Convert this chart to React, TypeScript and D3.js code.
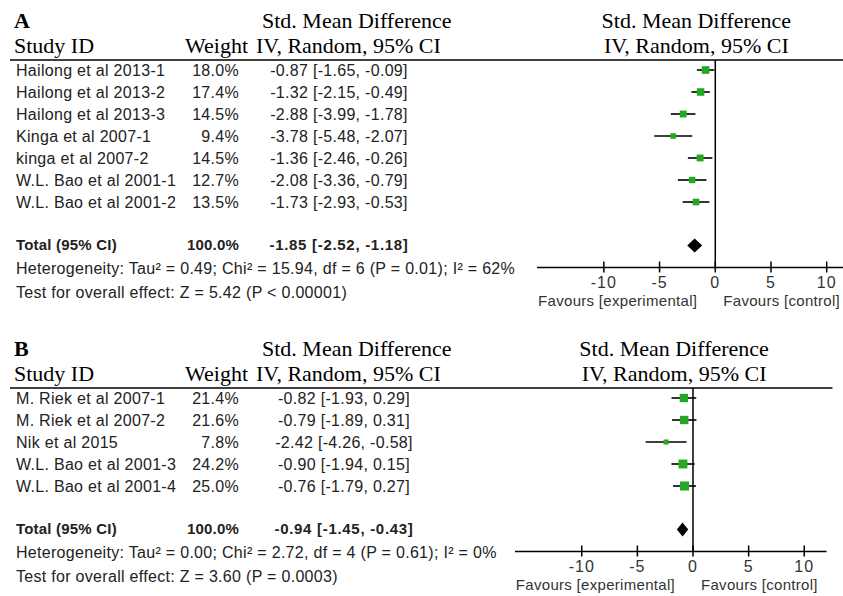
import React from "react";
import * as d3 from "d3";

// panel A data
const studiesA = ["Hailong et al 2013-1", "Hailong et al 2013-2", "Hailong et al 2013-3", "Kinga et al 2007-1", "kinga et al 2007-2", "W.L. Bao et al 2001-1", "W.L. Bao et al 2001-2"];
const weightsA = [18.0, 17.4, 14.5, 9.4, 14.5, 12.7, 13.5];
const smdA = [-0.87, -1.32, -2.88, -3.78, -1.36, -2.08, -1.73];
const lowerA = [-1.65, -2.15, -3.99, -5.48, -2.46, -3.36, -2.93];
const upperA = [-0.09, -0.49, -1.78, -2.07, -0.26, -0.79, -0.53];
const totalA = [-1.85, -2.52, -1.18];
const hetA = "Heterogeneity: Tau\u00b2 = 0.49; Chi\u00b2 = 15.94, df = 6 (P = 0.01); I\u00b2 = 62%";
const testA = "Test for overall effect: Z = 5.42 (P < 0.00001)";

// panel B data
const studiesB = ["M. Riek et al 2007-1", "M. Riek et al 2007-2", "Nik et al 2015", "W.L. Bao et al 2001-3", "W.L. Bao et al 2001-4"];
const weightsB = [21.4, 21.6, 7.8, 24.2, 25.0];
const smdB = [-0.82, -0.79, -2.42, -0.90, -0.76];
const lowerB = [-1.93, -1.89, -4.26, -1.94, -1.79];
const upperB = [0.29, 0.31, -0.58, 0.15, 0.27];
const totalB = [-0.94, -1.45, -0.43];
const hetB = "Heterogeneity: Tau\u00b2 = 0.00; Chi\u00b2 = 2.72, df = 4 (P = 0.61); I\u00b2 = 0%";
const testB = "Test for overall effect: Z = 3.60 (P = 0.0003)";

const ticks = [-10, -5, 0, 5, 10];
const xDomain = [-16, 12];

const serif = "'Liberation Serif', 'Times New Roman', serif";
const sans = "'Liberation Sans', Arial, sans-serif";
const textColor = "#222";
const green = "#22a822";

// plain hyphen minus, like RevMan prints it
const fmt = (v) => v.toFixed(2);
const ciText = (m, l, u) => `${fmt(m)} [${fmt(l)}, ${fmt(u)}]`;

function Panel(props) {
  const { label, studies, weights, smd, lower, upper, total, het, test, lineY, plotLeft, plotRight, ciX } = props;

  const x = d3.scaleLinear().domain(xDomain).range([plotLeft, plotRight]);
  const rowStep = 22;
  const rowY = (i) => lineY + 10 + i * rowStep;
  const lastY = rowY(studies.length - 1);
  const totalY = lastY + 43.5;
  const axisY = totalY + 22;
  const markSize = (w) => Math.sqrt(w) * 1.8;
  const headX = x(-1.7);

  const bodyStyle = { fontFamily: sans, fontSize: 16, letterSpacing: 0.3, fill: textColor };
  const boldStyle = { fontFamily: sans, fontSize: 15, letterSpacing: 0.2, fontWeight: "bold", fill: textColor };
  const axisStyle = { fontFamily: sans, fontSize: 15, letterSpacing: 0.3, fill: "#333" };

  return (
    <g>
      {/* headers */}
      <g style={{ fontFamily: serif, fontSize: 22, fill: "#000" }}>
        <text x={14} y={lineY - 32} fontWeight="bold">{label}</text>
        <text x={14} y={lineY - 7}>Study ID</text>
        <text x={248} y={lineY - 7} textAnchor="end">Weight</text>
        <text x={262} y={lineY - 32}>Std. Mean Difference</text>
        <text x={256} y={lineY - 7}>IV, Random, 95% CI</text>
        <text x={headX} y={lineY - 32} textAnchor="middle">Std. Mean Difference</text>
        <text x={headX} y={lineY - 7} textAnchor="middle">IV, Random, 95% CI</text>
      </g>
      <line x1={10} x2={plotRight + 6} y1={lineY} y2={lineY} stroke="#000" strokeWidth={1.5} />

      {/* table rows */}
      <g style={bodyStyle}>
        {studies.map((s, i) => (
          <g key={s}>
            <text x={16} y={rowY(i) + 6}>{s}</text>
            <text x={239} y={rowY(i) + 6} textAnchor="end">{weights[i].toFixed(1)}%</text>
            <text x={ciX} y={rowY(i) + 6} textAnchor="middle">{ciText(smd[i], lower[i], upper[i])}</text>
          </g>
        ))}
        <g style={boldStyle}>
          <text x={16} y={totalY + 4}>Total (95% CI)</text>
          <text x={239} y={totalY + 4} textAnchor="end">100.0%</text>
          <text x={ciX} y={totalY + 4} textAnchor="middle" style={{ letterSpacing: 0.7 }}>{ciText(total[0], total[1], total[2])}</text>
        </g>
        <text x={16} y={axisY + 6}>{het}</text>
        <text x={16} y={axisY + 30}>{test}</text>
      </g>

      {/* plot */}
      <line x1={x(0)} x2={x(0)} y1={lineY} y2={axisY} stroke="#000" strokeWidth={1.5} />
      {studies.map((s, i) => {
        const sz = markSize(weights[i]);
        return (
          <g key={"m" + s}>
            <line x1={x(lower[i])} x2={x(upper[i])} y1={rowY(i)} y2={rowY(i)} stroke="#000" strokeWidth={1.6} />
            <rect x={x(smd[i]) - sz / 2} y={rowY(i) - sz / 2} width={sz} height={sz} fill={green} />
          </g>
        );
      })}
      <path
        d={`M${x(total[1])},${totalY} L${x(total[0])},${totalY - 7} L${x(total[2])},${totalY} L${x(total[0])},${totalY + 7} Z`}
        fill="#000"
      />

      {/* axis */}
      <line x1={x(xDomain[0])} x2={x(xDomain[1])} y1={axisY} y2={axisY} stroke="#000" strokeWidth={1.5} />
      {ticks.map((t) => (
        <g key={t}>
          <line x1={x(t)} x2={x(t)} y1={axisY - 6} y2={axisY + 5} stroke="#000" strokeWidth={1.5} />
          <text x={x(t)} y={axisY + 20} textAnchor="middle" style={{ ...axisStyle, fontSize: 16, letterSpacing: 1 }}>{t}</text>
        </g>
      ))}
      <text x={x(0) - 18} y={axisY + 38} textAnchor="end" style={axisStyle}>Favours [experimental]</text>
      <text x={x(0) + 8} y={axisY + 38} style={axisStyle}>Favours [control]</text>
    </g>
  );
}

export default function App() {
  return (
    <svg width={843} height={596} style={{ position: "absolute", left: 0, top: 0, background: "#fff" }}>
      <rect width={843} height={596} fill="#fff" />
      <Panel
        label="A"
        studies={studiesA}
        weights={weightsA}
        smd={smdA}
        lower={lowerA}
        upper={upperA}
        total={totalA}
        het={hetA}
        test={testA}
        lineY={60}
        plotLeft={537}
        plotRight={849}
        ciX={339}
      />
      <Panel
        label="B"
        studies={studiesB}
        weights={weightsB}
        smd={smdB}
        lower={lowerB}
        upper={upperB}
        total={totalB}
        het={hetB}
        test={testB}
        lineY={388}
        plotLeft={515}
        plotRight={826.5}
        ciX={344}
      />
    </svg>
  );
}
